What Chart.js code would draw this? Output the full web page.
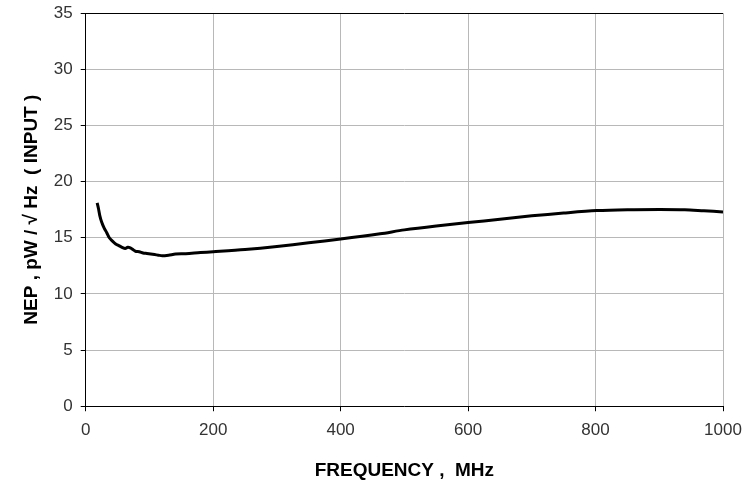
<!DOCTYPE html>
<html>
<head>
<meta charset="utf-8">
<script src="https://cdn.jsdelivr.net/npm/chart.js@4"></script>
<style>
html,body{margin:0;padding:0;background:#fff;}
#wrap{width:747px;height:486px;}
</style>
</head>
<body>
<div id="wrap"><canvas id="c" width="747" height="486"></canvas></div>
<script>
const freqMHz = [18, 20, 22, 25, 29, 33, 37, 42, 47, 52, 57, 62, 66, 70, 74, 78, 84, 90, 96, 102, 108, 114, 120, 130, 141, 157, 180, 200, 250, 300, 350, 400, 462, 500, 550, 600, 650, 700, 750, 802, 850, 900, 940, 970, 1000];
const nepValues = [18.1, 17.6, 17.0, 16.4, 15.85, 15.45, 15.0, 14.7, 14.45, 14.3, 14.15, 14.05, 14.15, 14.1, 13.95, 13.8, 13.75, 13.65, 13.6, 13.55, 13.5, 13.45, 13.4, 13.45, 13.55, 13.58, 13.68, 13.75, 13.95, 14.22, 14.55, 14.88, 15.35, 15.7, 16.05, 16.35, 16.65, 16.95, 17.2, 17.42, 17.5, 17.52, 17.5, 17.4, 17.3];
const xTicks = [0, 200, 400, 600, 800, 1000];
const yTicks = [0, 5, 10, 15, 20, 25, 30, 35];
const xTitle = 'FREQUENCY ,  MHz';
const yTitle = 'NEP , pW / \u221A Hz  ( INPUT )';

const points = freqMHz.map((f, i) => ({x: f, y: nepValues[i]}));
const FONT = "'Liberation Sans', Arial, sans-serif";

new Chart(document.getElementById('c'), {
  type: 'line',
  data: {
    datasets: [{
      data: points,
      borderColor: '#000',
      borderWidth: 3,
      pointRadius: 0,
      tension: 0.3,
      fill: false
    }]
  },
  options: {
    responsive: false,
    animation: false,
    layout: {padding: {top: 12, right: 24, left: 20, bottom: 4}},
    plugins: {legend: {display: false}, tooltip: {enabled: false}},
    scales: {
      x: {
        type: 'linear',
        min: xTicks[0], max: xTicks[xTicks.length - 1],
        afterBuildTicks: s => { s.ticks = xTicks.map(v => ({value: v})); },
        grid: {
          color: ctx => ctx.tick && ctx.tick.value === 0 ? '#000' : '#b8b8b8',
          lineWidth: 1,
          tickLength: 5,
          tickColor: '#000',
          drawTicks: true
        },
        border: {color: '#000', width: 1},
        ticks: {color: '#333', font: {family: FONT, size: 17, lineHeight: 1.88}, padding: 3, maxRotation: 0, callback: v => String(v)},
        title: {display: true, text: xTitle, color: '#000', font: {family: FONT, size: 19, weight: 'bold'}, padding: {top: 10, bottom: 0}}
      },
      y: {
        type: 'linear',
        min: yTicks[0], max: yTicks[yTicks.length - 1],
        afterBuildTicks: s => { s.ticks = yTicks.map(v => ({value: v})); },
        grid: {
          color: ctx => ctx.tick && ctx.tick.value === 35 ? '#000' : '#b8b8b8',
          lineWidth: 1,
          tickLength: 5,
          tickColor: '#000',
          drawTicks: true
        },
        border: {color: '#000', width: 1},
        ticks: {color: '#333', font: {family: FONT, size: 17, lineHeight: 0.6}, padding: 8, callback: v => String(v)},
        title: {display: true, text: yTitle, color: '#000', font: {family: FONT, size: 19, weight: 'bold'}, padding: {top: 0, bottom: 3}}
      }
    }
  }
});
</script>
</body>
</html>
